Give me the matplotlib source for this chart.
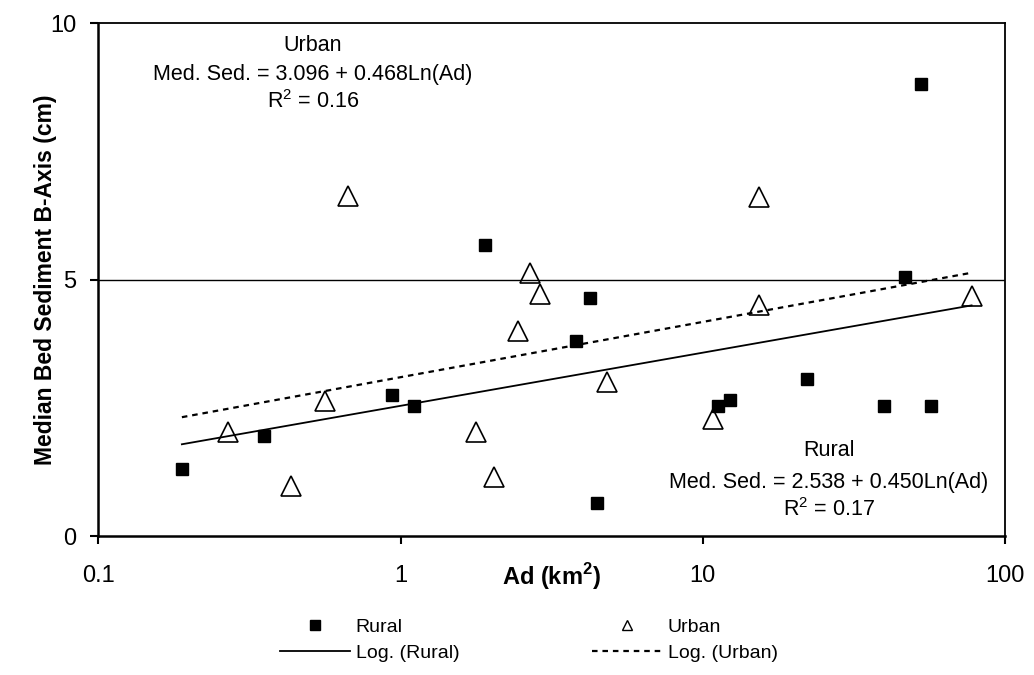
import numpy as np
import matplotlib
matplotlib.use('Agg')
import matplotlib.pyplot as plt
from matplotlib.lines import Line2D

plt.rcParams['font.family'] = 'Liberation Sans'
plt.rcParams['mathtext.fontset'] = 'custom'
plt.rcParams['mathtext.rm'] = 'Liberation Sans'
plt.rcParams['mathtext.bf'] = 'Liberation Sans:bold'

# Datos
rural_ad = [0.189, 0.354, 0.936, 1.11, 1.90, 3.82, 4.25, 4.45, 11.2, 12.3, 22.2, 39.9, 46.5, 52.6, 56.9]
rural_sed = [1.31, 1.95, 2.74, 2.54, 5.67, 3.81, 4.64, 0.64, 2.54, 2.66, 3.06, 2.54, 5.04, 8.81, 2.54]

urban_ad = [0.268, 0.434, 0.563, 0.668, 1.77, 2.03, 2.44, 2.68, 2.89, 4.81, 10.8, 15.3, 15.3, 77.5]
urban_sed = [2.02, 0.98, 2.64, 6.62, 2.02, 1.15, 4.00, 5.12, 4.71, 3.01, 2.29, 6.60, 4.51, 4.67]

# coeficientes de las tendencias logaritmicas: a + b*ln(Ad)
rural_fit = (2.538, 0.450)
urban_fit = (3.096, 0.468)

xticks = [0.1, 1, 10, 100]
xtick_labels = ['0.1', '1', '10', '100']
yticks = [0, 5, 10]

fig = plt.figure(figsize=(10.34, 6.75), dpi=100)
ax = fig.add_axes([0.0951, 0.2059, 0.8769, 0.76])

ax.set_xscale('log')
ax.set_xlim(0.1, 100)
ax.set_ylim(0, 10)

# linea de division en 5
ax.axhline(5, color='black', linewidth=1.0, zorder=1)

# tendencias
x_all = np.array(rural_ad + urban_ad)
x_fit = np.geomspace(x_all.min(), x_all.max(), 200)
ax.plot(x_fit, rural_fit[0] + rural_fit[1] * np.log(x_fit), color='black', linewidth=1.3, zorder=2)
ax.plot(x_fit, urban_fit[0] + urban_fit[1] * np.log(x_fit), color='black', linewidth=1.6,
        linestyle=(0, (2.5, 2.2)), zorder=2)

# puntos
ax.plot(rural_ad, rural_sed, 's', color='black', markersize=8.5, zorder=3)
ax.plot(urban_ad, urban_sed, '^', markerfacecolor='none', markeredgecolor='black',
        markeredgewidth=1.2, markersize=15, zorder=3)

# ejes
ax.set_xticks(xticks)
ax.set_xticklabels(xtick_labels)
ax.xaxis.set_minor_locator(matplotlib.ticker.NullLocator())
ax.set_yticks(yticks)
ax.tick_params(axis='both', direction='out', length=6, width=1.5, labelsize=17, colors='black')
ax.tick_params(axis='x', pad=15)
ax.tick_params(axis='y', pad=10)
for s in ['left', 'bottom']:
    ax.spines[s].set_linewidth(1.8)
for s in ['top', 'right']:
    ax.spines[s].set_linewidth(1.3)

ax.set_ylabel('Median Bed Sediment B-Axis (cm)', fontsize=16.5, fontweight='bold')
ax.yaxis.set_label_coords(-0.0455, 0.5)
ax.set_xlabel(r'Ad (km$^{\mathbf{2}}$)', fontsize=17, fontweight='bold')
ax.xaxis.set_label_coords(0.5, -0.0957)
ax.xaxis.label.set_va('baseline')

# ecuaciones
txt = dict(ha='center', va='center', fontsize=15.5)
ax.text(0.513, 9.57, 'Urban', **txt)
ax.text(0.513, 9.0, 'Med. Sed. = 3.096 + 0.468Ln(Ad)', **txt)
ax.text(0.513, 8.46, r'R$^2$ = 0.16', **txt)
ax.text(26.1, 1.66, 'Rural', **txt)
ax.text(26.1, 1.05, 'Med. Sed. = 2.538 + 0.450Ln(Ad)', **txt)
ax.text(26.1, 0.51, r'R$^2$ = 0.17', **txt)

# leyenda
handles = [
    Line2D([], [], marker='s', linestyle='none', color='black', markersize=6.5),
    Line2D([], [], color='black', linewidth=1.3),
    Line2D([], [], marker='^', linestyle='none', markerfacecolor='none',
           markeredgecolor='black', markersize=7),
    Line2D([], [], color='black', linewidth=1.6, linestyle=(0, (2.5, 2.2))),
]
labels = ['Rural', 'Log. (Rural)', 'Urban', 'Log. (Urban)']
fig.legend(handles, labels, loc='upper left', bbox_to_anchor=(0.2708, 0.084),
           ncol=2, frameon=False, fontsize=14, handlelength=3.6, handletextpad=0.3,
           columnspacing=6.8, labelspacing=0.45, borderpad=0, borderaxespad=0)

plt.savefig('out.png', dpi=100)
